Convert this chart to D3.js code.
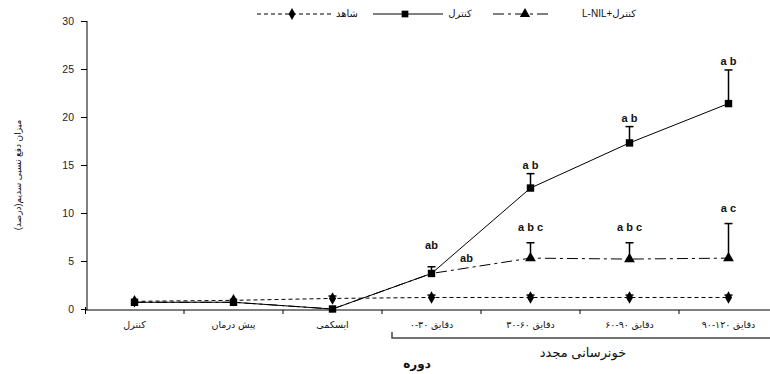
<!DOCTYPE html>
<html>
<head>
<meta charset="utf-8">
<script src="https://cdn.jsdelivr.net/npm/d3@7"></script>
<style>
  body { margin: 0; background: #fff; }
  svg text { font-family: "Liberation Sans", "DejaVu Sans", sans-serif; }
</style>
</head>
<body>
<svg id="chart" width="770" height="374"></svg>
<script>
// categories on x axis
const periods = ["کنترل", "پیش درمان", "ایسکمی", "۰-۳۰ دقایق", "۳۰-۶۰ دقایق", "۶۰-۹۰ دقایق", "۹۰-۱۲۰ دقایق"];
const yTicks = [0, 5, 10, 15, 20, 25, 30];

// شاهد
const shahed = [0.8, 0.9, 1.1, 1.2, 1.2, 1.2, 1.2];
const shahedErr = [0, 0, 0.25, 0.25, 0.25, 0.25, 0.25];
// کنترل
const control = [0.7, 0.7, 0.0, 3.7, 12.6, 17.3, 21.4];
const controlErr = [0, 0, 0, 0.7, 1.5, 1.7, 3.5];
const controlSig = ["", "", "", "ab", "a b", "a b", "a b"];
// کنترل+L-NIL
const lnil = [0.7, 0.7, 0.0, 3.7, 5.3, 5.2, 5.3];
const lnilErr = [0, 0, 0, 0, 1.6, 1.7, 3.6];
const lnilSig = ["", "", "", "ab", "a b c", "a b c", "a c"];

const svg = d3.select("#chart");

const x = d3.scaleBand().domain(periods).range([85, 778]);
const y = d3.scaleLinear().domain([0, 30]).range([309, 21]);
const cx = d => x(d) + x.bandwidth() / 2;

// y axis
const yAxis = svg.append("g")
  .attr("transform", "translate(87,0)")
  .call(d3.axisLeft(y).tickValues(yTicks).tickSize(6).tickPadding(7));
yAxis.select(".domain").attr("stroke", "#000").attr("d", "M0," + y(30) + "V" + (y(0) + 1));
yAxis.selectAll("text").attr("font-size", 10.5).attr("fill", "#222");

// x axis
const xAxis = svg.append("g").attr("transform", "translate(0,310)");
xAxis.append("line")
  .attr("x1", 85).attr("x2", 770).attr("stroke", "#000");
xAxis.selectAll(".tk")
  .data(periods.slice(1).concat([null]))
  .join("line")
  .attr("x1", (d, i) => x(periods[0]) + x.bandwidth() * (i + 1))
  .attr("x2", (d, i) => x(periods[0]) + x.bandwidth() * (i + 1))
  .attr("y1", 0).attr("y2", 4)
  .attr("stroke", "#000");
xAxis.append("line").attr("x1", 85.5).attr("x2", 85.5).attr("y1", -3).attr("y2", 4).attr("stroke", "#000");
xAxis.selectAll(".cat")
  .data(periods)
  .join("text")
  .attr("x", d => cx(d))
  .attr("y", 18)
  .attr("text-anchor", "middle")
  .attr("font-size", 9.5)
  .attr("fill", "#111")
  .text(d => d);

// bracket for reperfusion group
const bx = x(periods[3]) + 10;
svg.append("path")
  .attr("d", `M${bx},332V338H770`)
  .attr("fill", "none")
  .attr("stroke", "#444")
  .attr("stroke-width", 1.5);
svg.append("text")
  .attr("x", 583).attr("y", 357)
  .attr("text-anchor", "middle")
  .attr("font-size", 13)
  .attr("fill", "#111")
  .text("خونرسانی مجدد");
svg.append("text")
  .attr("x", 417).attr("y", 368)
  .attr("text-anchor", "middle")
  .attr("font-size", 12)
  .attr("font-weight", "bold")
  .attr("fill", "#111")
  .text("دوره");

// y label
svg.append("text")
  .attr("transform", "translate(21,175) rotate(-90)")
  .attr("text-anchor", "middle")
  .attr("font-size", 9)
  .attr("fill", "#111")
  .text("میزان دفع نسبی سدیم(درصد)");

const line = d3.line().x((d, i) => cx(periods[i])).y(d => y(d));

const series = [
  { vals: lnil, err: lnilErr, dash: "11,4,3,4", sym: d3.symbolTriangle, size: 50, hideShared: true },
  { vals: shahed, err: shahedErr, dash: "4,3", sym: d3.symbolDiamond, size: 45 },
  { vals: control, err: controlErr, dash: null, sym: d3.symbolSquare, size: 55 }
];

series.forEach(s => {
  svg.append("path")
    .datum(s.vals)
    .attr("d", line)
    .attr("fill", "none")
    .attr("stroke", "#000")
    .attr("stroke-width", 1)
    .attr("stroke-dasharray", s.dash);
});

series.forEach(s => {
  const g = svg.append("g");
  s.vals.forEach((v, i) => {
    if (s.err[i] > 0) {
      const px = cx(periods[i]);
      g.append("line")
        .attr("x1", px).attr("x2", px)
        .attr("y1", y(v)).attr("y2", y(v + s.err[i]))
        .attr("stroke", "#000").attr("stroke-width", 1.5);
      g.append("line")
        .attr("x1", px - 4).attr("x2", px + 4)
        .attr("y1", y(v + s.err[i])).attr("y2", y(v + s.err[i]))
        .attr("stroke", "#000").attr("stroke-width", 1.5);
    }
  });
  // points that sit on the control curve are hidden under its squares
  const pts = s.vals.map((v, i) => ({ v, i }))
    .filter(p => !(s.hideShared && p.v === control[p.i]));
  g.selectAll("path")
    .data(pts)
    .join("path")
    .attr("transform", p => `translate(${cx(periods[p.i])},${y(p.v)})`)
    .attr("d", d3.symbol(s.sym, s.size))
    .attr("fill", "#000");
});

// significance letters
const sigText = (vals, err, sig, gap, lift) => {
  sig.forEach((t, i) => {
    if (!t) return;
    const px = cx(periods[i]);
    const noBar = err[i] === 0;
    let ty = noBar ? y(vals[i]) - 11 : y(vals[i] + err[i]) - gap;
    if (lift && lnilErr[i] === 0) ty -= 13;
    svg.append("text")
      .attr("x", noBar ? px + 35 : px)
      .attr("y", ty)
      .attr("text-anchor", "middle")
      .attr("font-size", 11)
      .attr("font-weight", "bold")
      .attr("fill", "#111")
      .text(t);
  });
};
sigText(control, controlErr, controlSig, 5, true);
sigText(lnil, lnilErr, lnilSig, 12, false);

// legend
const leg = svg.append("g").attr("transform", "translate(0,14)");
const legItems = [
  { x1: 257, x2: 333, m: 292, dash: "4,3", sym: d3.symbolDiamond, size: 40, label: "شاهد", tx: 347 },
  { x1: 373, x2: 443, m: 405, dash: null, sym: d3.symbolSquare, size: 45, label: "کنترل", tx: 460 },
  { x1: 493, x2: 550, m: 525, dash: "11,4,3,4", sym: d3.symbolTriangle, size: 45, label: "L-NIL+کنترل", tx: 609 }
];
legItems.forEach(it => {
  leg.append("line")
    .attr("x1", it.x1).attr("x2", it.x2)
    .attr("stroke", "#000").attr("stroke-dasharray", it.dash);
  leg.append("path")
    .attr("transform", `translate(${it.m},0)`)
    .attr("d", d3.symbol(it.sym, it.size))
    .attr("fill", "#000");
  leg.append("text")
    .attr("x", it.tx).attr("y", 3)
    .attr("text-anchor", "middle")
    .attr("font-size", 10)
    .attr("fill", "#111")
    .text(it.label);
});
</script>
</body>
</html>
